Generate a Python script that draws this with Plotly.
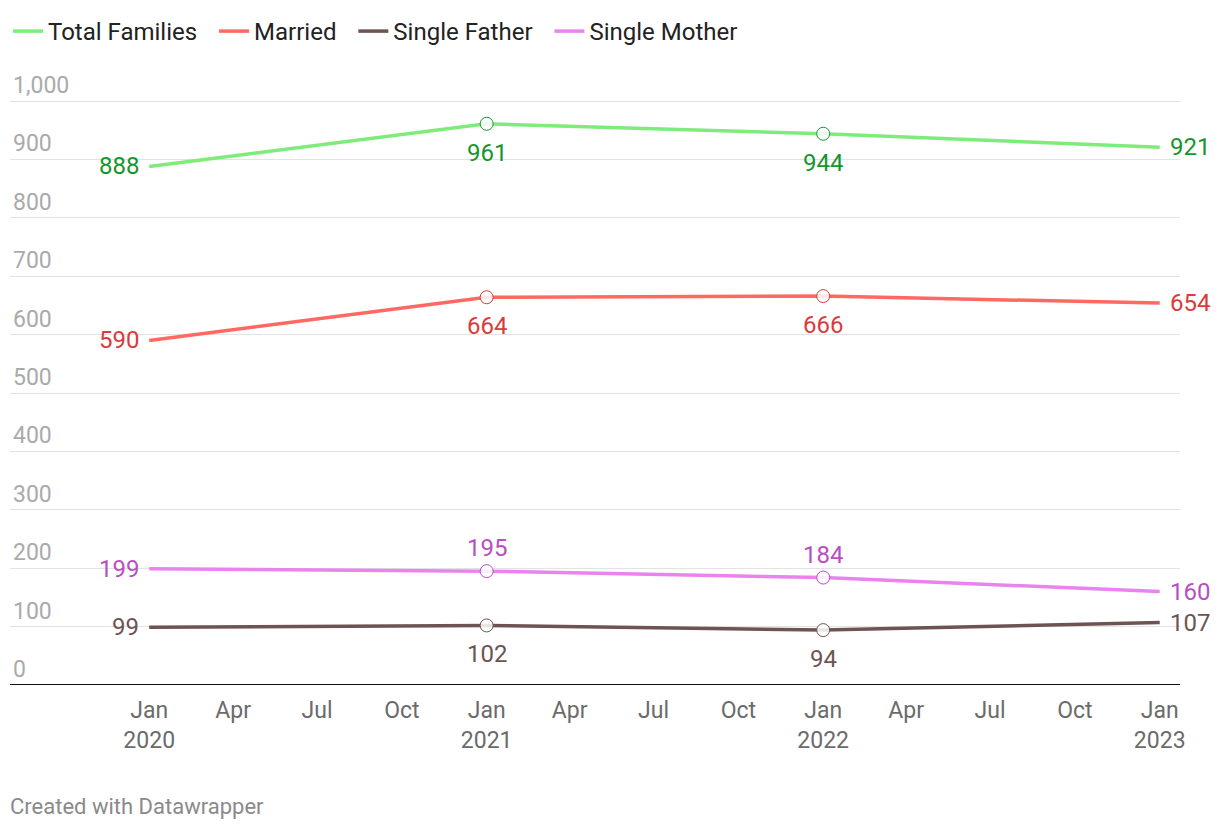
import plotly.graph_objects as go

dates = ["2020-01-01", "2021-01-01", "2022-01-01", "2023-01-01"]
series_names = ["Total Families", "Married", "Single Father", "Single Mother"]
total_families = [888, 961, 944, 921]
married = [590, 664, 666, 654]
single_father = [99, 102, 94, 107]
single_mother = [199, 195, 184, 160]

tick_dates = ["2020-01-01", "2020-04-01", "2020-07-01", "2020-10-01",
              "2021-01-01", "2021-04-01", "2021-07-01", "2021-10-01",
              "2022-01-01", "2022-04-01", "2022-07-01", "2022-10-01",
              "2023-01-01"]
tick_labels = ["Jan<br>2020", "Apr", "Jul", "Oct",
               "Jan<br>2021", "Apr", "Jul", "Oct",
               "Jan<br>2022", "Apr", "Jul", "Oct",
               "Jan<br>2023"]
y_ticks = [0, 100, 200, 300, 400, 500, 600, 700, 800, 900, 1000]

values = [total_families, married, single_father, single_mother]
line_colors = ["#7eec7a", "#ff6961", "#6e5353", "#e984ee"]
label_colors = ["#14962c", "#d93b3b", "#6e5353", "#b84fc0"]
# middle labels: below (-1) or above (+1)
mid_side = [-1, -1, -1, 1]

W, H = 1212, 824
Y_TOP = 1060
ML, MR, MT, MB = 2, 40, 58, 147
plot_h = H - MT - MB

fig = go.Figure()
annotations = []
for name, vals, lc, tc, side in zip(series_names, values, line_colors, label_colors, mid_side):
    fig.add_trace(go.Scatter(
        x=dates, y=vals, name=name + "\u00a0\u00a0", mode="lines",
        line=dict(color=lc, width=3.5), hoverinfo="skip"))
    fig.add_trace(go.Scatter(
        x=dates[1:3], y=vals[1:3], mode="markers", showlegend=False,
        marker=dict(size=13, color="rgba(255,255,255,0.85)", line=dict(color=tc, width=1)),
        hoverinfo="skip"))
    for i, (d, v) in enumerate(zip(dates, vals)):
        if i == 0:
            kw = dict(xanchor="right", yanchor="middle", xshift=-8, yshift=0)
        elif i == len(vals) - 1:
            kw = dict(xanchor="left", yanchor="middle", xshift=8, yshift=0)
        else:
            kw = dict(xanchor="center", yanchor="middle", xshift=0, yshift=side * (23 if side > 0 else 29))
        annotations.append(dict(x=d, y=v, xref="x", yref="y", text=str(v), showarrow=False,
                                font=dict(color=tc, size=24, family="Roboto"), **kw))

annotations.append(dict(x=0, y=-(798 - (H - MB)) / plot_h, xref="paper", yref="paper",
                        text="Created with Datawrapper", xshift=-2,
                        showarrow=False, font=dict(color="#8a8a8a", size=22, family="Roboto"),
                        xanchor="left", yanchor="middle"))

fig.update_layout(
    width=W, height=H,
    paper_bgcolor="white", plot_bgcolor="white",
    margin=dict(l=ML, r=MR, t=MT, b=MB),
    font=dict(family="Roboto", size=23, color="#222"),
    showlegend=True,
    legend=dict(orientation="h", x=-0.0025, xref="container", y=1 - 1 / H, yref="container",
                xanchor="left", yanchor="top", font=dict(size=24, color="#222"),
                itemwidth=30, tracegroupgap=0, bgcolor="rgba(0,0,0,0)"),
    annotations=annotations,
    xaxis=dict(type="date", range=["2019-08-03", "2023-01-23"],
               tickvals=tick_dates, ticktext=tick_labels,
               showgrid=False, zeroline=False, showline=False, ticks="",
               ticklabelstandoff=9,
               tickfont=dict(size=23, color="#6b6b6b")),
    yaxis=dict(range=[0, Y_TOP], tickvals=y_ticks,
               ticktext=[f"{v:,}" for v in y_ticks],
               ticklabelposition="inside top", showgrid=True, gridcolor="#e3e3e3", gridwidth=1,
               zeroline=False, showline=False, ticks="",
               tickfont=dict(size=23, color="#aaaaaa")),
)
fig.add_shape(type="line", xref="paper", yref="y", x0=0, x1=1, y0=0, y1=0,
              line=dict(color="#111", width=2))
fig.write_html("out.html")
